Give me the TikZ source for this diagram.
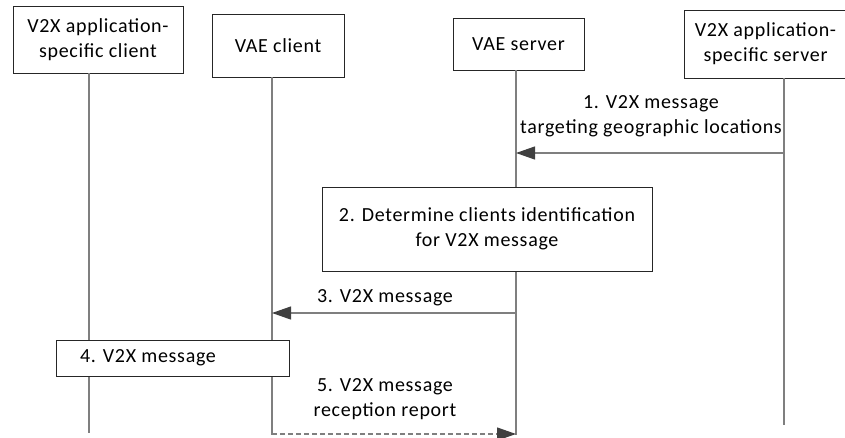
\documentclass[tikz,border=0pt]{standalone}
\usepackage{fontspec}
\setmainfont{Carlito}[LetterSpace=3.5]
\usetikzlibrary{arrows.meta}
\definecolor{lifegray}{HTML}{7F7F7F}
\definecolor{headgray}{HTML}{404040}
\begin{document}
\begin{tikzpicture}[x=1pt,y=-1pt,
  every node/.style={font=\fontsize{20}{25}\selectfont},
  entity/.style={draw=black!85,line width=0.9pt,fill=white,align=center,inner sep=0pt},
  lifeline/.style={draw=lifegray,line width=1.2pt},
  msg/.style={draw=lifegray,line width=1.2pt,-{Triangle[length=19pt,width=13pt,fill=headgray,color=headgray]}},
  lbl/.style={align=center,inner sep=0pt}]
\useasboundingbox (0,0) rectangle (845,437);
% entities
\node[entity,minimum width=170,minimum height=67] (asc) at (98,39.5) {V2X application-\\specific client};
\node[entity,minimum width=132,minimum height=63] (vc) at (278,45.5) {VAE client};
\node[entity,minimum width=131,minimum height=52] (vs) at (518.5,44) {VAE server};
\node[entity,minimum width=163,minimum height=68] (ass) at (765.5,44) {V2X application-\\specific server};
% lifeline coordinates
\coordinate (l1t) at (89,73);   \coordinate (l1b) at (89,433);
\coordinate (l2t) at (272,77);  \coordinate (l2b) at (272,435);
\coordinate (l3t) at (516,70);  \coordinate (l3b) at (516,435);
\coordinate (l4t) at (784,78);  \coordinate (l4b) at (784,425);
\draw[lifeline] (l1t) -- (l1b);
\draw[lifeline] (l2t) -- (l2b);
\draw[lifeline] (l3t) -- (l3b);
\draw[lifeline] (l4t) -- (l4b);
% step 2 box
\node[entity,minimum width=330,minimum height=84] (det) at (487,229) {2. Determine clients identification\\for V2X message};
% step 4 box
\node[entity,minimum width=233,minimum height=36] (s4) at (172.5,358) {};
\node[lbl] (s4t) at (148,358) {4. V2X message};
% messages
\coordinate (m1s) at (784,153); \coordinate (m1e) at (516,153);
\draw[msg] (m1s) -- (m1e);
\node[lbl] (m1l) at (651,116) {1. V2X message\\targeting geographic locations};
\coordinate (m3s) at (516,313); \coordinate (m3e) at (272,313);
\draw[msg] (m3s) -- (m3e);
\node[lbl] (m3l) at (385,298) {3. V2X message};
\coordinate (m5s) at (272,434); \coordinate (m5e) at (516,434);
\draw[msg,dash pattern=on 5pt off 3pt] (m5s) -- (m5e);
\node[lbl] (m5l) at (385,399) {5. V2X message\\reception report};
\end{tikzpicture}
\end{document}
